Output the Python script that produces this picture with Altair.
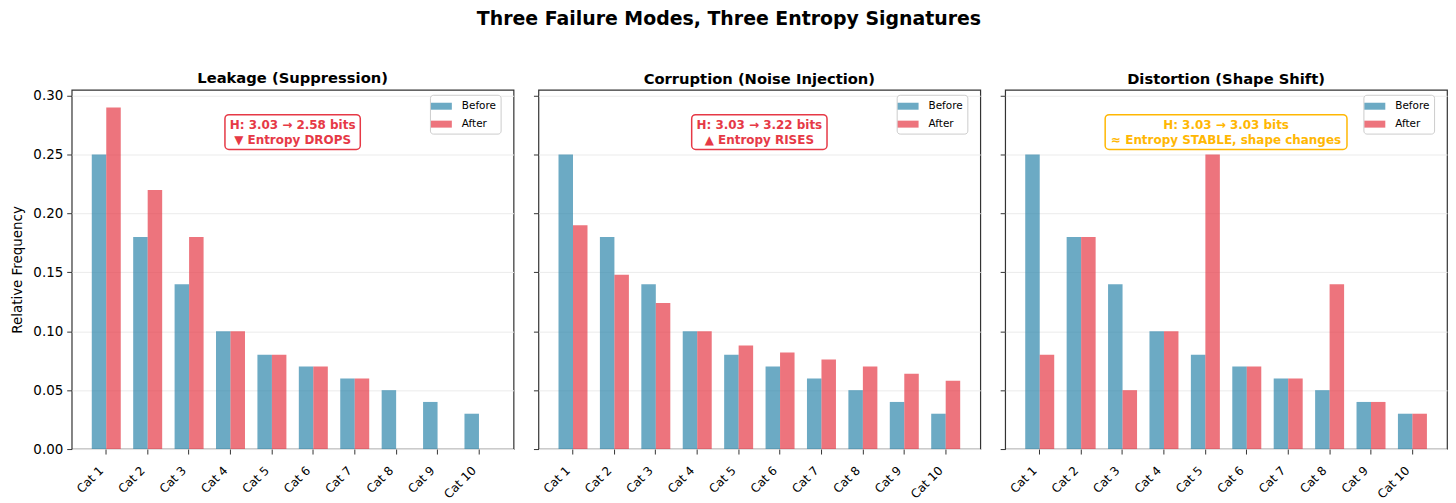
import altair as alt
import pandas as pd

categories = ["Cat 1", "Cat 2", "Cat 3", "Cat 4", "Cat 5", "Cat 6", "Cat 7", "Cat 8", "Cat 9", "Cat 10"]
before = [0.25, 0.18, 0.14, 0.10, 0.08, 0.07, 0.06, 0.05, 0.04, 0.03]
after_leakage = [0.29, 0.22, 0.18, 0.10, 0.08, 0.07, 0.06, 0.0, 0.0, 0.0]
after_corruption = [0.19, 0.148, 0.124, 0.10, 0.088, 0.082, 0.076, 0.070, 0.064, 0.058]
after_distortion = [0.08, 0.18, 0.05, 0.10, 0.25, 0.07, 0.06, 0.14, 0.04, 0.03]
groups = ["Before", "After"]
y_ticks = [0.0, 0.05, 0.10, 0.15, 0.20, 0.25, 0.30]

panel_titles = ["Leakage (Suppression)", "Corruption (Noise Injection)", "Distortion (Shape Shift)"]
annotations = [
    "H: 3.03 → 2.58 bits\n▼ Entropy DROPS",
    "H: 3.03 → 3.22 bits\n▲ Entropy RISES",
    "H: 3.03 → 3.03 bits\n≈ Entropy STABLE, shape changes",
]
ann_colors = ["#E63946", "#E63946", "#FFB703"]
ann_widths = [136, 136, 243]

W, H = 444, 361
FONT = "DejaVu Sans"
BLUE, RED = "#2E86AB", "#E63946"


def make_panel(idx, after_vals, show_y):
    rows = []
    for c, b, a in zip(categories, before, after_vals):
        rows.append({"cat": c, "group": "Before", "value": b})
        rows.append({"cat": c, "group": "After", "value": a})
    df = pd.DataFrame(rows)

    if show_y:
        yaxis = alt.Axis(values=y_ticks, format=".2f", title="Relative Frequency",
                         labelFontSize=13.5, titleFontSize=13.5, titleFontWeight="normal",
                         titlePadding=8, tickSize=5, labelPadding=4, grid=True,
                         gridColor="#ebebeb", domain=False, tickColor="#333")
    else:
        yaxis = alt.Axis(values=y_ticks, labels=False, title=None, tickSize=5, grid=True,
                         gridColor="#ebebeb", domain=False, tickColor="#333")

    bars = alt.Chart(df).mark_bar(opacity=0.7).encode(
        x=alt.X("cat:N", sort=categories, title=None,
                scale=alt.Scale(paddingInner=0.3, paddingOuter=0.485),
                axis=alt.Axis(labelAngle=-45, labelAlign="right", labelBaseline="bottom",
                              labelFontSize=12, tickSize=5, labelPadding=19, domain=False,
                              grid=False, tickColor="#333")),
        xOffset=alt.XOffset("group:N", sort=groups,
                            scale=alt.Scale(paddingInner=0, paddingOuter=0)),
        y=alt.Y("value:Q", scale=alt.Scale(domain=[0, 0.305], nice=False), axis=yaxis),
        color=alt.Color("group:N", sort=groups,
                        scale=alt.Scale(domain=groups, range=[BLUE, RED]),
                        legend=alt.Legend(title=None, orient="none", legendX=360, legendY=5,
                                          fillColor="white", strokeColor="#cccccc",
                                          cornerRadius=3, padding=4, rowPadding=5,
                                          labelFontSize=10.5, labelOffset=13,
                                          symbolType="M-1.4,-0.467L1.4,-0.467L1.4,0.467L-1.4,0.467Z",
                                          symbolSize=225, symbolStrokeWidth=0,
                                          symbolOpacity=0.7)),
    )

    one = pd.DataFrame({"k": [0]})
    bw = ann_widths[idx]
    box = alt.Chart(one).mark_rect(fill="white", fillOpacity=0.85, stroke=ann_colors[idx],
                                   strokeWidth=1.5, cornerRadius=4).encode(
        x=alt.value(W / 2 - bw / 2), x2=alt.value(W / 2 + bw / 2),
        y=alt.value(25), y2=alt.value(60))
    txt = alt.Chart(one).mark_text(lineBreak="\n", fontWeight="bold", fontSize=12,
                                   color=ann_colors[idx], align="center", baseline="middle",
                                   lineHeight=15, font=FONT).encode(
        x=alt.value(W / 2), y=alt.value(35.5), text=alt.value(annotations[idx]))

    return alt.layer(bars, box, txt).properties(
        width=W, height=H,
        title=alt.TitleParams(panel_titles[idx], fontSize=14.8, fontWeight="bold", offset=3, font=FONT))


p1 = make_panel(0, after_leakage, True)
p2 = make_panel(1, after_corruption, False)
p3 = make_panel(2, after_distortion, False)

chart = alt.hconcat(p1, p2, p3, spacing=17).resolve_scale(color="independent").properties(
    title=alt.TitleParams("Three Failure Modes, Three Entropy Signatures", fontSize=19,
                          fontWeight="bold", anchor="middle", offset=42, font=FONT),
    padding={"left": 2, "top": 0, "right": 0, "bottom": 0},
).configure(font=FONT).configure_view(stroke="#333", strokeWidth=1.2).configure_axis(
    labelFont=FONT, titleFont=FONT, labelColor="black", titleColor="black"
).configure_legend(labelFont=FONT)

chart.save("out.html", embed_options={"renderer": "svg", "actions": False})
